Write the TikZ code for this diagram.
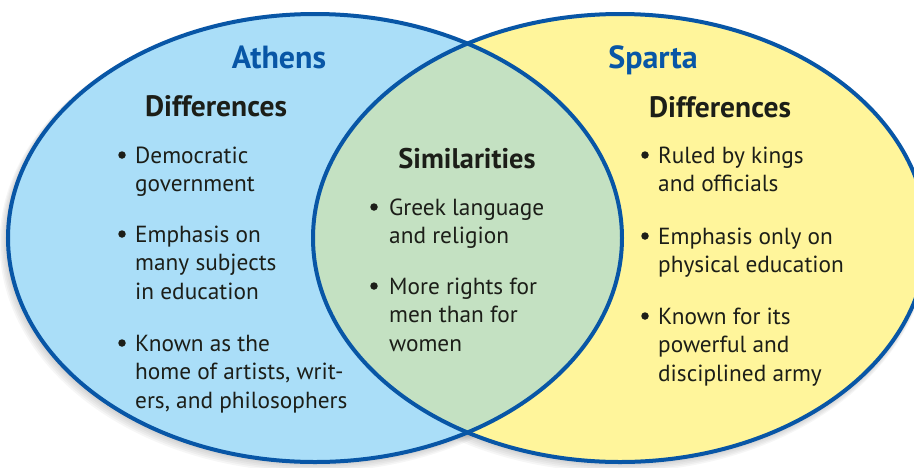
\documentclass[tikz,border=0pt]{standalone}
\usepackage{fontspec}
\setmainfont{PT Sans}
\definecolor{rimblue}{RGB}{8,86,166}
\definecolor{athfill}{RGB}{170,222,248}
\definecolor{spafill}{RGB}{255,245,155}
\definecolor{simfill}{RGB}{196,225,194}
\definecolor{ink}{RGB}{28,30,24}
\tikzset{
  title/.style={font=\fontsize{32}{36}\selectfont\bfseries, text=rimblue, anchor=base, inner sep=0},
  head/.style={font=\fontsize{29.5}{32}\selectfont\bfseries, text=ink, anchor=base, inner sep=0},
  simhead/.style={font=\fontsize{28.4}{32}\selectfont\bfseries, text=ink, anchor=base, inner sep=0},
  bul/.style={circle, fill=ink, inner sep=0, minimum size=7.5pt},
  item/.style={font=\fontsize{23.3}{28.7}\selectfont, text=ink, anchor=base west, inner sep=0},
  rim/.style={draw=rimblue, line width=4pt},
}
\newcommand{\lines}[1]{\parbox[t]{300pt}{\raggedright #1}}
\begin{document}
\begin{tikzpicture}[x=1pt,y=-1pt]
\useasboundingbox (0,0) rectangle (914,467);
\clip (0,0) rectangle (914,467);
% shadows
\foreach \k in {1,...,6}{
  \fill[black, opacity=0.035] (315-\k*0.6,238+\k*0.9) ellipse [x radius=307+\k*0.8, y radius=224+\k*0.8];
  \fill[black, opacity=0.035] (620-\k*0.6,238+\k*0.9) ellipse [x radius=307+\k*0.8, y radius=224+\k*0.8];
}
\fill[athfill] (315,238) ellipse [x radius=307, y radius=224];
\fill[spafill] (620,238) ellipse [x radius=307, y radius=224];
\begin{scope}
  \clip (315,238) ellipse [x radius=307, y radius=224];
  \fill[simfill] (620,238) ellipse [x radius=307, y radius=224];
\end{scope}
\draw[rim] (315,238) ellipse [x radius=307, y radius=224];
\draw[rim] (620,238) ellipse [x radius=307, y radius=224];

% Athens
\node[title] (athens) at (279,68) {Athens};
\node[head] (adiff) at (216,116) {Differences};
\node[bul] (ab1) at (122,155) {};
\node[item] (at1) at (135,163) {\lines{Democratic\\government}};
\node[bul] (ab2) at (122,234) {};
\node[item] (at2) at (135,242) {\lines{Emphasis on\\many subjects\\in education}};
\node[bul] (ab3) at (122,343) {};
\node[item] (at3) at (135,351) {\lines{Known as the\\home of artists, writ-\\ers, and philosophers}};

% Similarities
\node[simhead] (sim) at (467,168) {Similarities};
\node[bul] (sb1) at (374,207) {};
\node[item] (st1) at (389,215) {\lines{Greek language\\and religion}};
\node[bul] (sb2) at (374,286) {};
\node[item] (st2) at (389,294) {\lines{More rights for\\men than for\\women}};

% Sparta
\node[title] (sparta) at (653,68) {Sparta};
\node[head] (sdiff) at (720,117) {Differences};
\node[bul] (pb1) at (645,155) {};
\node[item] (pt1) at (658,163) {\lines{Ruled by kings\\and officials}};
\node[bul] (pb2) at (645,236) {};
\node[item] (pt2) at (658,244) {\lines{Emphasis only on\\physical education}};
\node[bul] (pb3) at (645,316) {};
\node[item] (pt3) at (658,324) {\lines{Known for its\\powerful and\\disciplined army}};
\end{tikzpicture}
\end{document}
